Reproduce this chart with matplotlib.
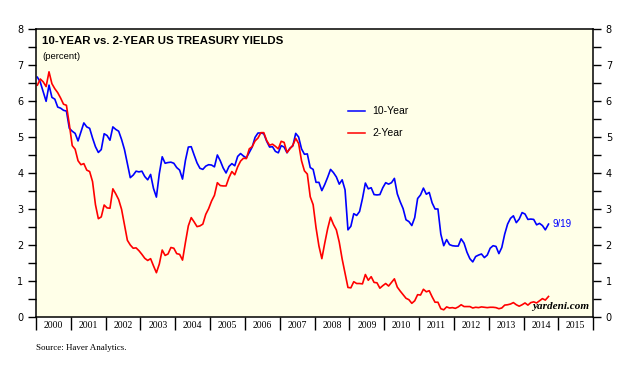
import numpy as np
import matplotlib
matplotlib.use('Agg')
import matplotlib.pyplot as plt
from matplotlib.ticker import MultipleLocator, FixedLocator, NullFormatter

# monthly yields, Jan 2000 .. Sep 2014 (percent)
ten_year = [
    6.66, 6.52, 6.26, 5.99, 6.44, 6.10, 6.05, 5.83, 5.80, 5.74, 5.72, 5.24,
    5.16, 5.10, 4.89, 5.14, 5.39, 5.28, 5.24, 4.97, 4.73, 4.57, 4.65, 5.09,
    5.04, 4.91, 5.28, 5.21, 5.16, 4.93, 4.65, 4.26, 3.87, 3.94, 4.05, 4.03,
    4.05, 3.90, 3.81, 3.96, 3.57, 3.33, 3.98, 4.45, 4.27, 4.29, 4.30, 4.27,
    4.15, 4.08, 3.83, 4.35, 4.72, 4.73, 4.50, 4.28, 4.13, 4.10, 4.19, 4.23,
    4.22, 4.17, 4.50, 4.34, 4.14, 4.00, 4.18, 4.26, 4.20, 4.46, 4.54, 4.47,
    4.42, 4.57, 4.72, 4.99, 5.11, 5.11, 5.09, 4.88, 4.72, 4.73, 4.60, 4.56,
    4.76, 4.72, 4.56, 4.69, 4.75, 5.10, 5.00, 4.67, 4.52, 4.53, 4.15, 4.10,
    3.74, 3.74, 3.51, 3.68, 3.88, 4.10, 4.01, 3.89, 3.69, 3.81, 3.53, 2.42,
    2.52, 2.87, 2.82, 2.93, 3.29, 3.72, 3.56, 3.59, 3.40, 3.39, 3.40, 3.59,
    3.73, 3.69, 3.73, 3.85, 3.42, 3.20, 3.01, 2.70, 2.65, 2.54, 2.76, 3.29,
    3.39, 3.58, 3.41, 3.46, 3.17, 3.00, 3.00, 2.30, 1.98, 2.15, 2.01, 1.98,
    1.97, 1.97, 2.17, 2.05, 1.80, 1.62, 1.53, 1.68, 1.72, 1.75, 1.65, 1.72,
    1.91, 1.98, 1.96, 1.76, 1.93, 2.30, 2.58, 2.74, 2.81, 2.62, 2.72, 2.90,
    2.86, 2.71, 2.72, 2.71, 2.56, 2.60, 2.54, 2.42, 2.58,
]
two_year = [
    6.44, 6.61, 6.53, 6.40, 6.81, 6.48, 6.34, 6.23, 6.08, 5.91, 5.88, 5.35,
    4.76, 4.66, 4.34, 4.23, 4.26, 4.08, 4.04, 3.76, 3.12, 2.73, 2.78, 3.11,
    3.03, 3.02, 3.56, 3.42, 3.26, 2.99, 2.56, 2.13, 2.00, 1.91, 1.92, 1.84,
    1.74, 1.63, 1.57, 1.62, 1.42, 1.23, 1.47, 1.86, 1.71, 1.75, 1.93, 1.91,
    1.76, 1.74, 1.58, 2.07, 2.53, 2.76, 2.64, 2.51, 2.53, 2.58, 2.85, 3.01,
    3.22, 3.38, 3.73, 3.65, 3.64, 3.64, 3.87, 4.04, 3.95, 4.17, 4.33, 4.41,
    4.40, 4.67, 4.73, 4.89, 4.97, 5.12, 5.12, 4.90, 4.77, 4.80, 4.74, 4.67,
    4.88, 4.85, 4.57, 4.67, 4.77, 4.96, 4.82, 4.34, 4.06, 3.97, 3.34, 3.12,
    2.48, 1.97, 1.62, 2.05, 2.45, 2.77, 2.57, 2.42, 2.08, 1.61, 1.21, 0.82,
    0.81, 0.98, 0.93, 0.93, 0.92, 1.18, 1.02, 1.12, 0.96, 0.95, 0.80, 0.87,
    0.93, 0.86, 0.96, 1.06, 0.83, 0.72, 0.62, 0.52, 0.48, 0.38, 0.45, 0.62,
    0.61, 0.77, 0.70, 0.73, 0.56, 0.41, 0.41, 0.23, 0.20, 0.28, 0.25, 0.26,
    0.24, 0.28, 0.34, 0.29, 0.29, 0.29, 0.25, 0.27, 0.26, 0.28, 0.27, 0.26,
    0.27, 0.27, 0.26, 0.23, 0.25, 0.33, 0.34, 0.36, 0.40, 0.34, 0.30, 0.34,
    0.39, 0.33, 0.40, 0.42, 0.39, 0.45, 0.51, 0.47, 0.57,
]
years = list(range(2000, 2016))

# time axis in fractional years, mid-month
t = 2000 + (np.arange(len(ten_year)) + 0.5) / 12
t[-1] = 2014 + 8.6 / 12   # last point is 9/19

fig = plt.figure(figsize=(6.42, 3.79), dpi=100)
ax = fig.add_axes([0.056, 0.1636, 0.868, 0.76])
ax.set_facecolor('#ffffe8')

ax.plot(t, ten_year, color='#0000ff', lw=1.2)
ax.plot(t, two_year, color='#ff0000', lw=1.2)

ax.set_xlim(2000, 2016)
ax.set_ylim(0, 8)

# y axis on both sides
ax.yaxis.set_major_locator(MultipleLocator(1))
ax.yaxis.set_minor_locator(MultipleLocator(0.5))
ax.tick_params(axis='y', which='both', left=True, right=True, labelleft=True,
               labelright=True, direction='out', length=6, width=1,
               labelsize=7, pad=3)

# x axis: ticks at year boundaries, labels centred in each year
ax.xaxis.set_major_locator(FixedLocator(years + [2016]))
ax.xaxis.set_major_formatter(NullFormatter())
ax.xaxis.set_minor_locator(FixedLocator([y + 0.5 for y in years]))
ax.set_xticklabels([str(y) for y in years], minor=True, family='Liberation Serif', fontsize=7)
ax.tick_params(axis='x', which='major', direction='out', length=9, width=1)
ax.tick_params(axis='x', which='minor', length=0, pad=3)
for s in ax.spines.values():
    s.set_linewidth(1.1)

ax.text(0.011, 0.975, '10-YEAR vs. 2-YEAR US TREASURY YIELDS', transform=ax.transAxes,
        fontsize=8.2, fontweight='bold', family='Liberation Sans', va='top')
ax.text(0.011, 0.92, '(percent)', transform=ax.transAxes, fontsize=6.8,
        family='Liberation Sans', va='top')

# legend drawn by hand
ax.plot([2008.95, 2009.45], [5.72, 5.72], color='#0000ff', lw=1.1)
ax.text(2009.65, 5.72, '10-Year', fontsize=7.5, family='Liberation Sans', va='center')
ax.plot([2008.95, 2009.45], [5.1, 5.1], color='#ff0000', lw=1.1)
ax.text(2009.65, 5.1, '2-Year', fontsize=7.5, family='Liberation Sans', va='center')

ax.text(t[-1] + 0.12, ten_year[-1], '9/19', color='#0000ff', fontsize=7,
        family='Liberation Sans', va='center')
ax.text(0.992, 0.02, 'yardeni.com', transform=ax.transAxes, ha='right', va='bottom',
        fontsize=8, family='Liberation Serif', style='italic', fontweight='bold')

fig.text(0.056, 0.083, 'Source: Haver Analytics.', fontsize=6.5, family='Liberation Serif', va='center')

fig.savefig('out.png', dpi=100, facecolor='white')
